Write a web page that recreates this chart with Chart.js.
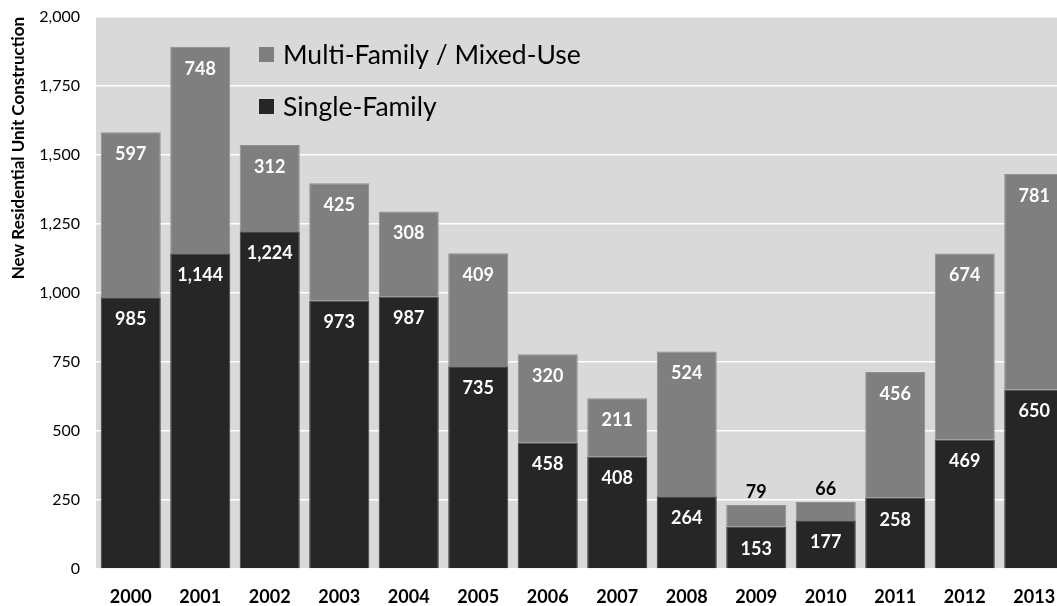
<!DOCTYPE html>
<html>
<head>
<meta charset="utf-8">
<script src="https://cdn.jsdelivr.net/npm/chart.js@4/dist/chart.umd.min.js"></script>
<style>
  html, body { margin: 0; padding: 0; background: #ffffff; overflow: hidden; }
  #wrap { position: relative; width: 1069px; height: 606px; }
</style>
</head>
<body>
<div id="wrap"><canvas id="c"></canvas></div>
<script>
const years = ['2000','2001','2002','2003','2004','2005','2006','2007','2008','2009','2010','2011','2012','2013'];
const singleFamily = [985, 1144, 1224, 973, 987, 735, 458, 408, 264, 153, 177, 258, 469, 650];
const multiFamily = [597, 748, 312, 425, 308, 409, 320, 211, 524, 79, 66, 456, 674, 781];
const yTickValues = [0, 250, 500, 750, 1000, 1250, 1500, 1750, 2000];
const seriesNames = ['Single-Family', 'Multi-Family / Mixed-Use'];
const axisTitle = 'New Residential Unit Construction';

const FONT = 'Lato, "Open Sans", sans-serif';
const DARK = '#262626';
const GRAY = '#7f7f7f';

const plotBg = {
  id: 'plotBg',
  beforeDraw(chart) {
    const {ctx, chartArea: a} = chart;
    ctx.save();
    ctx.fillStyle = '#d9d9d9';
    ctx.fillRect(a.left, a.top, a.right - a.left, a.bottom - a.top);
    ctx.restore();
  }
};

const valueLabels = {
  id: 'valueLabels',
  afterDatasetsDraw(chart) {
    const {ctx} = chart;
    ctx.save();
    ctx.font = 'bold 18px ' + FONT;
    ctx.textAlign = 'center';
    ctx.textBaseline = 'middle';
    chart.data.datasets.forEach((ds, di) => {
      const meta = chart.getDatasetMeta(di);
      meta.data.forEach((bar, i) => {
        const v = ds.data[i];
        const top = Math.min(bar.y, bar.base);
        const h = Math.abs(bar.base - bar.y);
        const txt = v.toLocaleString('en-US');
        if (h < 40) {
          ctx.fillStyle = '#000000';
          ctx.fillText(txt, bar.x, top - 13);
        } else {
          ctx.fillStyle = '#ffffff';
          ctx.fillText(txt, bar.x, top + 22);
        }
      });
    });
    ctx.restore();
  }
};

const innerLegend = {
  id: 'innerLegend',
  afterDraw(chart) {
    const {ctx} = chart;
    const items = [
      {label: chart.data.datasets[1].label, color: chart.data.datasets[1].backgroundColor, y: 55},
      {label: chart.data.datasets[0].label, color: chart.data.datasets[0].backgroundColor, y: 107}
    ];
    ctx.save();
    ctx.font = '26.5px ' + FONT;
    ctx.textAlign = 'left';
    ctx.textBaseline = 'middle';
    items.forEach(it => {
      ctx.fillStyle = it.color;
      ctx.fillRect(259, it.y - 8, 15, 15);
      ctx.fillStyle = '#000000';
      ctx.fillText(it.label, 283, it.y);
    });
    ctx.restore();
  }
};

new Chart(document.getElementById('c'), {
  type: 'bar',
  data: {
    labels: years,
    datasets: [
      { label: seriesNames[0], data: singleFamily, backgroundColor: DARK, borderColor: '#3a3a3a', borderWidth: 1, barPercentage: 0.864, categoryPercentage: 1.0 },
      { label: seriesNames[1], data: multiFamily, backgroundColor: GRAY, borderColor: '#8f8f8f', borderWidth: 1, barPercentage: 0.864, categoryPercentage: 1.0 }
    ]
  },
  options: {
    responsive: true,
    maintainAspectRatio: false,
    animation: false,
    layout: { padding: { top: 17, right: 0, bottom: 0, left: 0 } },
    plugins: { legend: { display: false }, tooltip: { enabled: false } },
    scales: {
      x: {
        stacked: true,
        grid: { display: false, drawTicks: false },
        border: { display: false },
        ticks: { color: '#000000', font: { family: FONT, size: 18, weight: 'bold' }, padding: 17, maxRotation: 0, autoSkip: false },
        afterFit(s) { s.height = 37; s.paddingLeft = 0; s.paddingRight = 0; }
      },
      y: {
        stacked: true,
        min: 0,
        max: 2000,
        afterBuildTicks(s) { s.ticks = yTickValues.map(v => ({value: v})); },
        grid: { color: '#ffffff', lineWidth: 1.5, drawTicks: false },
        border: { display: false },
        ticks: {
          color: '#000000',
          font: { family: FONT, size: 16 },
          padding: 16,
          callback: v => Number(v).toLocaleString('en-US')
        },
        title: {
          display: true,
          text: axisTitle,
          align: 'end',
          color: '#000000',
          font: { family: FONT, size: 17, weight: 'bold' },
          padding: { top: 8, bottom: 0 }
        },
        afterFit(s) { s.width = 96; s.paddingTop = 0; s.paddingBottom = 0; }
      }
    }
  },
  plugins: [plotBg, valueLabels, innerLegend]
});
</script>
</body>
</html>
